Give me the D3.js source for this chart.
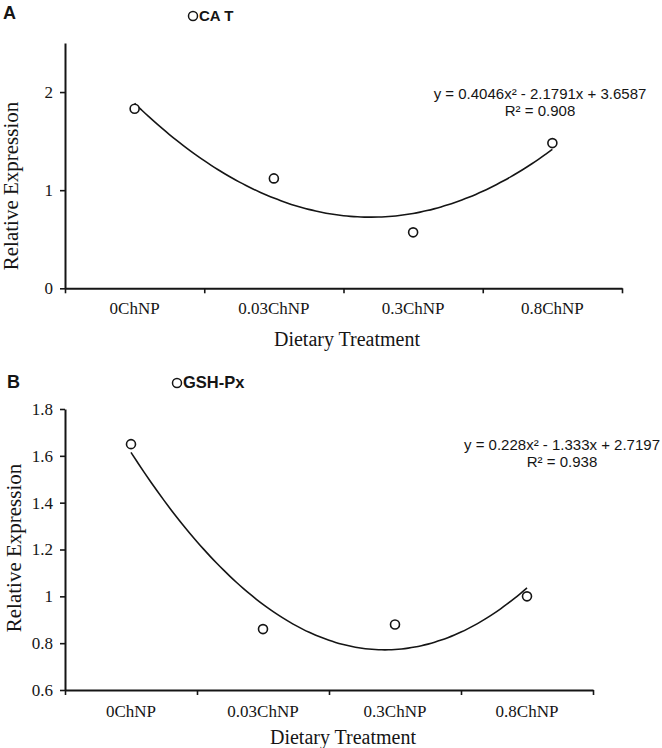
<!DOCTYPE html>
<html>
<head>
<meta charset="utf-8">
<script src="https://cdn.jsdelivr.net/npm/d3@7"></script>
<style>
  html, body { margin: 0; padding: 0; background: #fff; }
  svg { display: block; }
  .serif { font-family: "Liberation Serif", "Times New Roman", serif; }
  .sans { font-family: "Liberation Sans", Arial, sans-serif; }
</style>
</head>
<body>
<svg id="chart" width="662" height="748"></svg>
<script>
// ---- Data ----
const categories = ["0ChNP", "0.03ChNP", "0.3ChNP", "0.8ChNP"];
const catValues = [1.83, 1.12, 0.57, 1.48];
const gshValues = [1.65, 0.86, 0.88, 1.0];
const catCoef = [0.4046, -2.1791, 3.6587];
const gshCoef = [0.228, -1.333, 2.7197];
const catTicks = [0, 1, 2];
const gshTicks = [0.6, 0.8, 1.0, 1.2, 1.4, 1.6, 1.8];
const catEquation = "y = 0.4046x² - 2.1791x + 3.6587";
const catR2 = "R² = 0.908";
const gshEquation = "y = 0.228x² - 1.333x + 2.7197";
const gshR2 = "R² = 0.938";

const svg = d3.select("#chart");
const INK = "#151515";

function panel(cfg) {
  const g = svg.append("g");
  const x = d3.scaleBand().domain(categories).range([cfg.left, cfg.right]);
  const xi = d3.scaleLinear().domain([1, categories.length])
    .range([x(categories[0]) + x.bandwidth() / 2, x(categories[categories.length - 1]) + x.bandwidth() / 2]);
  const y = d3.scaleLinear().domain(cfg.yDomain).range([cfg.bottom, cfg.top]);

  // y axis
  const ya = g.append("g").attr("transform", `translate(${cfg.left},0)`)
    .call(d3.axisLeft(y).tickValues(cfg.ticks).tickSizeInner(5).tickSizeOuter(0).tickPadding(7)
      .tickFormat(d => d3.format("~g")(+d.toFixed(2))));
  ya.select(".domain").attr("stroke", INK).attr("stroke-width", 2);
  ya.selectAll(".tick line").attr("stroke", INK).attr("stroke-width", 1.6);
  ya.selectAll(".tick text").attr("class", "serif").attr("font-size", 17).attr("fill", INK);

  // x axis: boundary ticks
  const xb = d3.scaleLinear().domain([0, categories.length]).range([cfg.left, cfg.right]);
  const xa = g.append("g").attr("transform", `translate(0,${cfg.bottom})`)
    .call(d3.axisBottom(xb).tickValues(d3.range(0, categories.length + 1)).tickSizeInner(5).tickSizeOuter(0).tickFormat(""));
  xa.select(".domain").attr("stroke", INK).attr("stroke-width", 2);
  xa.selectAll(".tick line").attr("stroke", INK).attr("stroke-width", 1.6);
  const xl = g.append("g").attr("transform", `translate(0,${cfg.bottom})`)
    .call(d3.axisBottom(x).tickSize(0).tickPadding(cfg.labelPad));
  xl.select(".domain").remove();
  xl.selectAll(".tick text").attr("class", "serif").attr("font-size", 17).attr("fill", INK);

  // axis titles
  g.append("text").attr("class", "serif").attr("font-size", 20).attr("fill", INK)
    .attr("text-anchor", "middle").attr("x", cfg.xTitleX).attr("y", cfg.xTitleY)
    .text("Dietary Treatment");
  g.append("text").attr("class", "serif").attr("font-size", 21).attr("fill", INK)
    .attr("text-anchor", "middle")
    .attr("transform", `translate(${cfg.yTitleX},${cfg.yTitleY}) rotate(-90)`)
    .attr("dy", "0.35em")
    .text("Relative Expression");

  // trendline (fitted polynomial from the equation)
  const c = cfg.coef;
  const xs = d3.range(1, 4.0001, 0.05);
  const line = d3.line().x(d => xi(d)).y(d => y(c[0] * d * d + c[1] * d + c[2])).curve(d3.curveBasis);
  g.append("path").datum(xs).attr("d", line).attr("fill", "none")
    .attr("stroke", INK).attr("stroke-width", 1.6);

  // points
  g.selectAll("circle.pt").data(cfg.values).join("circle").attr("class", "pt")
    .attr("cx", (d, i) => x(categories[i]) + x.bandwidth() / 2)
    .attr("cy", d => y(d)).attr("r", 4.5)
    .attr("fill", "#fff").attr("stroke", INK).attr("stroke-width", 1.6);

  // equation
  g.append("text").attr("class", "sans").attr("font-size", 15).attr("fill", INK)
    .attr("text-anchor", "middle").attr("x", cfg.eqX).attr("y", cfg.eqY).text(cfg.eq);
  g.append("text").attr("class", "sans").attr("font-size", 15).attr("fill", INK)
    .attr("text-anchor", "middle").attr("x", cfg.eqX).attr("y", cfg.eqY + 16.5).text(cfg.r2);

  // legend
  g.append("circle").attr("cx", cfg.legX).attr("cy", cfg.legY - 5).attr("r", 4.5)
    .attr("fill", "#fff").attr("stroke", INK).attr("stroke-width", 1.5);
  g.append("text").attr("class", "sans").attr("font-weight", "bold").attr("font-size", cfg.legSize)
    .attr("fill", INK).attr("x", cfg.legX + 6).attr("y", cfg.legY).text(cfg.legend);

  // panel letter
  g.append("text").attr("class", "sans").attr("font-weight", "bold").attr("font-size", 18)
    .attr("fill", INK).attr("x", cfg.letterX).attr("y", cfg.letterY).text(cfg.letter);
}

panel({
  left: 65, right: 622, top: 43, bottom: 288.3, yDomain: [0, 2.5], ticks: catTicks,
  values: catValues, coef: catCoef, eq: catEquation, r2: catR2, eqX: 540, eqY: 99,
  legend: "CA T", legSize: 15, legX: 193, legY: 21, letter: "A", letterX: 3, letterY: 19,
  labelPad: 14, xTitleX: 347, xTitleY: 346, yTitleX: 11, yTitleY: 186
});
panel({
  left: 65, right: 593, top: 409, bottom: 690, yDomain: [0.6, 1.8], ticks: gshTicks,
  values: gshValues, coef: gshCoef, eq: gshEquation, r2: gshR2, eqX: 562, eqY: 450,
  legend: "GSH-Px", legSize: 16.5, legX: 177, legY: 388, letter: "B", letterX: 7, letterY: 388,
  labelPad: 15, xTitleX: 343, xTitleY: 744, yTitleX: 14, yTitleY: 548
});
</script>
</body>
</html>
